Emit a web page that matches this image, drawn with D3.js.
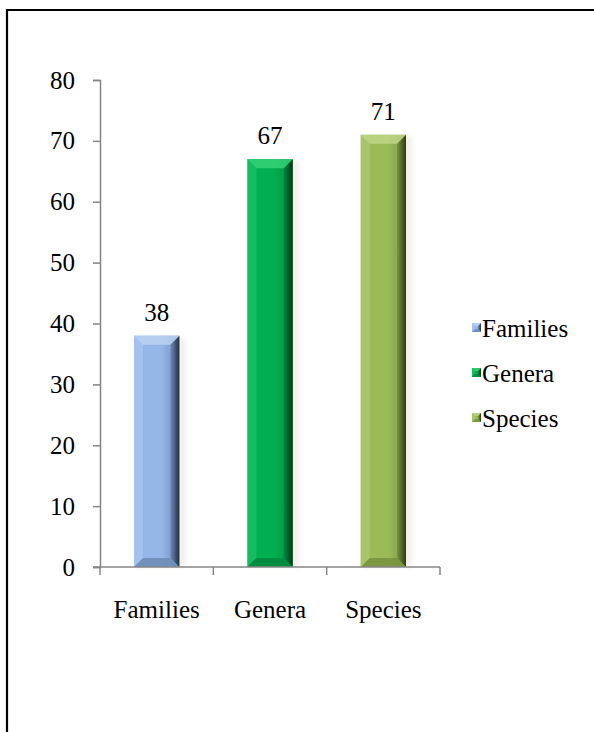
<!DOCTYPE html>
<html>
<head>
<meta charset="utf-8">
<script src="https://cdn.jsdelivr.net/npm/d3@7"></script>
<style>
  html, body { margin: 0; padding: 0; background: #fff; }
  svg { display: block; }
  text { font-family: "Liberation Serif", "Times New Roman", serif; fill: #000; }
</style>
</head>
<body>
<svg id="chart" width="594" height="732"></svg>
<script>
// Taxonomic counts
const categories = ["Families", "Genera", "Species"];
const values = [38, 67, 71];
const yTicks = [0, 10, 20, 30, 40, 50, 60, 70, 80];
const colors = {
  Families: { base: "#95B7E8", light: "#C2D7F4", dark: "#1F2F45", mid: "#6F8DB8" },
  Genera:   { base: "#00B050", light: "#3CD77E", dark: "#00361A", mid: "#008A3E" },
  Species:  { base: "#9BBB59", light: "#C3DA8C", dark: "#2C3A12", mid: "#7A9540" }
};
const FONT = 25;

const svg = d3.select("#chart");

// frame around the chart area
svg.append("path")
  .attr("d", "M7,740 L7,10 L600,10")
  .attr("fill", "none").attr("stroke", "#000").attr("stroke-width", 2.2);

const plot = { left: 100, right: 440, top: 80, bottom: 567 };

const x = d3.scaleBand().domain(categories)
  .range([plot.left, plot.right]).paddingInner(0.6).paddingOuter(0.3);
const y = d3.scaleLinear().domain([0, 80]).range([plot.bottom, plot.top]);

const defs = svg.append("defs");
categories.forEach(c => {
  const col = colors[c];
  const g = defs.append("linearGradient").attr("id", "body-" + c)
    .attr("x1", 0).attr("x2", 1).attr("y1", 0).attr("y2", 0);
  g.append("stop").attr("offset", "0%").attr("stop-color", col.base);
  g.append("stop").attr("offset", "60%").attr("stop-color", col.base);
  g.append("stop").attr("offset", "100%").attr("stop-color", col.mid);
  const r = defs.append("linearGradient").attr("id", "right-" + c)
    .attr("x1", 0).attr("x2", 1).attr("y1", 0).attr("y2", 0);
  r.append("stop").attr("offset", "0%").attr("stop-color", col.mid);
  r.append("stop").attr("offset", "100%").attr("stop-color", col.dark);
  const f = defs.append("filter").attr("id", "shadow-" + c)
    .attr("x", "-30%").attr("y", "-10%").attr("width", "160%").attr("height", "120%");
  f.append("feGaussianBlur").attr("stdDeviation", 2.5);
});

// bevelled box drawn from its corner coordinates
function bevelBox(g, c, x0, x1, y0, y1, b) {
  const col = colors[c];
  g.append("rect").attr("x", x0).attr("y", y0)
    .attr("width", x1 - x0).attr("height", y1 - y0)
    .attr("fill", `url(#body-${c})`);
  const poly = (pts, fill, op) => g.append("polygon")
    .attr("points", pts.map(p => p.join(",")).join(" "))
    .attr("fill", fill).attr("opacity", op);
  poly([[x0, y0], [x0 + b, y0 + b], [x0 + b, y1 - b], [x0, y1]], col.light, 0.35);
  poly([[x1, y0], [x1 - b, y0 + b], [x1 - b, y1 - b], [x1, y1]], `url(#right-${c})`, 1);
  poly([[x0, y0], [x1, y0], [x1 - b, y0 + b], [x0 + b, y0 + b]], col.light, 0.75);
  poly([[x0, y1], [x1, y1], [x1 - b, y1 - b], [x0 + b, y1 - b]], col.mid, 0.9);
}

// bars
const bars = svg.append("g");
categories.forEach((c, i) => {
  const x0 = x(c), x1 = x(c) + x.bandwidth();
  const y0 = y(values[i]), y1 = y(0);
  bars.append("rect").attr("x", x0 + 2).attr("y", y0 + 2)
    .attr("width", x1 - x0 + 4).attr("height", y1 - y0 - 2)
    .attr("fill", "#d9d2c0").attr("opacity", 0.35)
    .attr("filter", `url(#shadow-${c})`);
  bevelBox(bars.append("g"), c, x0, x1, y0, y1, 9);
  svg.append("text")
    .attr("x", x0 + x.bandwidth() / 2).attr("y", y0 - 15)
    .attr("text-anchor", "middle").attr("font-size", FONT)
    .text(values[i]);
});

// y axis
const axisColor = "#868686";
const yAxis = svg.append("g").attr("transform", `translate(${plot.left},0)`)
  .call(d3.axisLeft(y).tickValues(yTicks).tickSize(7).tickPadding(18));
yAxis.select(".domain").attr("stroke", axisColor).attr("stroke-width", 1.5);
yAxis.selectAll(".tick line").attr("stroke", axisColor).attr("stroke-width", 1.5);
yAxis.selectAll(".tick text")
  .attr("font-family", "Liberation Serif, Times New Roman, serif")
  .attr("font-size", FONT).attr("fill", "#000");

// x axis: category boundaries as ticks
const xAxisG = svg.append("g");
xAxisG.append("line")
  .attr("x1", plot.left - 7).attr("x2", plot.right)
  .attr("y1", plot.bottom).attr("y2", plot.bottom)
  .attr("stroke", axisColor).attr("stroke-width", 1.5);
const step = (plot.right - plot.left) / categories.length;
d3.range(categories.length + 1).forEach(k => {
  const xx = plot.left + k * step;
  xAxisG.append("line").attr("x1", xx).attr("x2", xx)
    .attr("y1", plot.bottom).attr("y2", plot.bottom + 8)
    .attr("stroke", axisColor).attr("stroke-width", 1.5);
});
categories.forEach(c => {
  svg.append("text")
    .attr("x", x(c) + x.bandwidth() / 2).attr("y", 618)
    .attr("text-anchor", "middle").attr("font-size", FONT)
    .text(c);
});

// legend
const legend = svg.append("g");
categories.forEach((c, i) => {
  const ly = 323 + i * 45;
  bevelBox(legend.append("g"), c, 472, 481, ly, ly + 9, 3);
  legend.append("text").attr("x", 482).attr("y", ly + 14)
    .attr("font-size", FONT).text(c);
});
</script>
</body>
</html>
